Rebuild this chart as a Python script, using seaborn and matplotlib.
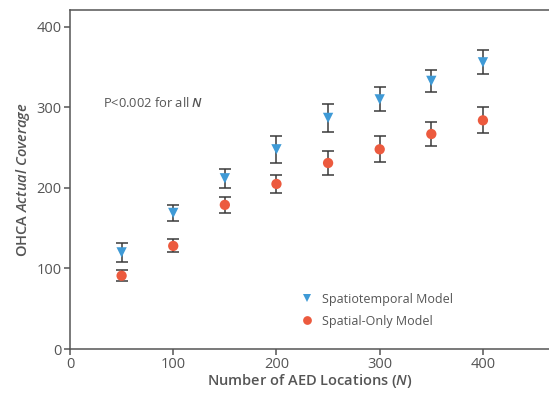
import numpy as np
import pandas as pd
import seaborn as sns
import matplotlib.pyplot as plt

# values
n_locations = [50, 100, 150, 200, 250, 300, 350, 400]
spatiotemporal = [120, 169, 212, 248, 287, 310, 333, 356]
spatiotemporal_err = [12, 10, 12, 17, 17, 15, 14, 15]
spatial_only = [91, 128, 179, 205, 231, 248, 267, 284]
spatial_only_err = [7, 8, 10, 11, 15, 16, 15, 16]

sns.set_style("ticks")
plt.rcParams['font.family'] = ['Open Sans', 'DejaVu Sans']
plt.rcParams['mathtext.fontset'] = 'custom'
plt.rcParams['mathtext.it'] = 'Open Sans:italic:semibold'
plt.rcParams['mathtext.rm'] = 'Open Sans'

grey = '#555555'
blue = '#3f9ad6'
red = '#ec5a3e'

df = pd.DataFrame({
    'N': n_locations * 2,
    'coverage': spatiotemporal + spatial_only,
    'err': spatiotemporal_err + spatial_only_err,
    'model': ['Spatiotemporal Model'] * 8 + ['Spatial-Only Model'] * 8,
})

fig = plt.figure(figsize=(5.49, 3.94), dpi=100)
ax = fig.add_axes([0.1275, 0.1142, 0.8725, 0.8604])

# error bars first, markers on top
for model, sub in df.groupby('model'):
    ax.errorbar(sub['N'], sub['coverage'], yerr=sub['err'], fmt='none',
                ecolor='#3a3a3a', elinewidth=1.1, capsize=4, capthick=1.1, zorder=2)

sns.scatterplot(data=df, x='N', y='coverage', hue='model', style='model',
                hue_order=['Spatiotemporal Model', 'Spatial-Only Model'],
                style_order=['Spatiotemporal Model', 'Spatial-Only Model'],
                palette=[blue, red], markers=['v', 'o'], s=55,
                edgecolor='none', linewidth=0, ax=ax, zorder=3)

ax.set_xlim(0, 464)
ax.set_ylim(0, 421)
ax.set_xticks([0, 100, 200, 300, 400])
ax.set_yticks([0, 100, 200, 300, 400])
ax.tick_params(colors=grey, labelsize=10.5, length=4, width=1.1, pad=2,
               direction='out')
ax.spines['right'].set_visible(False)
for s in ax.spines.values():
    s.set_color('#555555')
    s.set_linewidth(1.1)

ax.set_xlabel('Number of AED Locations ($\\it{N}$)', fontsize=10.5,
              color=grey, fontweight='semibold', labelpad=0)
ax.set_ylabel('OHCA $\\it{Actual\\ Coverage}$', fontsize=10.5,
              color=grey, fontweight='semibold', labelpad=3)

ax.text(32, 306, 'P<0.002 for all $\\it{N}$', fontsize=9.3, color=grey,
        va='center', ha='left')

leg = ax.legend(loc='lower left', bbox_to_anchor=(0.445, 0.03), frameon=False,
                fontsize=9, handletextpad=0.2, labelspacing=0.7,
                markerscale=0.85)
for t in leg.get_texts():
    t.set_color(grey)

fig.savefig('out.png', dpi=100)
